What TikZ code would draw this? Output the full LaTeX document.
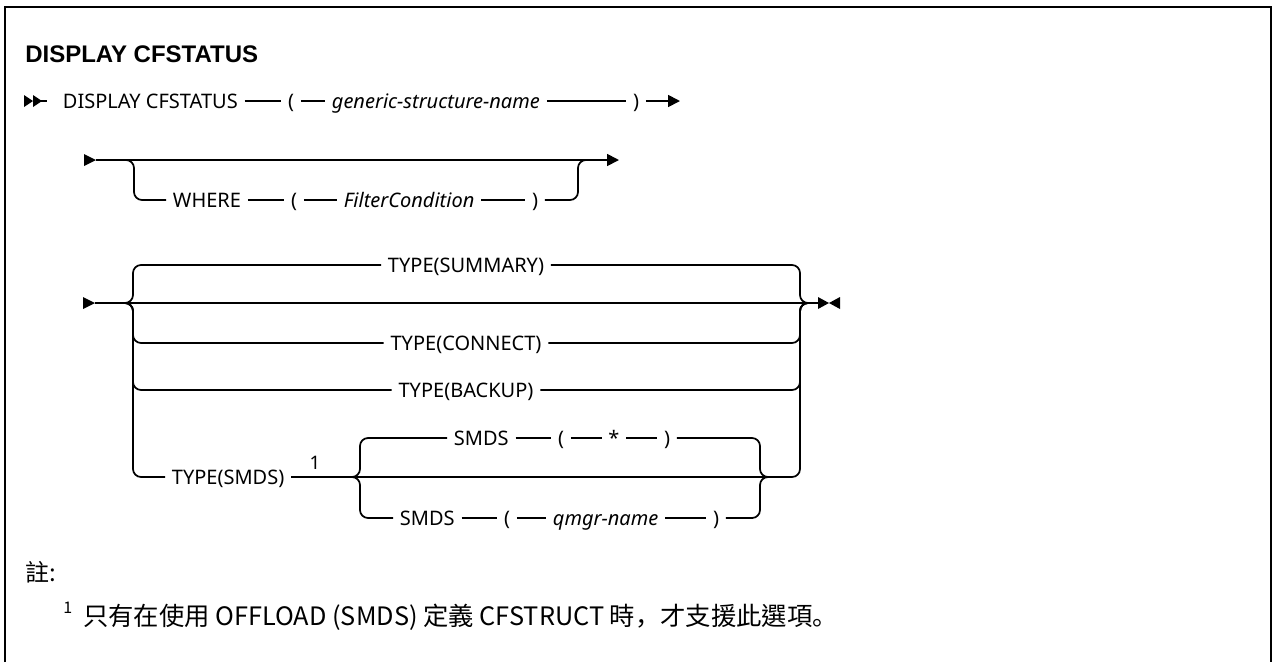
\documentclass[tikz,border=0pt]{standalone}
\usepackage{fontspec}
\setmainfont{Noto Sans}
\newfontfamily\cjk{Noto Sans CJK TC}
\newfontfamily\cjksc{Noto Sans CJK SC}
\newfontfamily\titlefont{Liberation Sans}
\usetikzlibrary{arrows.meta}
\begin{document}
\begin{tikzpicture}[x=0.75pt,y=-0.75pt,
  ln/.style={line width=1.3pt},
  br/.style={ln, rounded corners=6pt},
  txt/.style={inner xsep=5pt, inner ysep=0pt, font=\fontsize{15}{18}\selectfont},
  itx/.style={txt, font=\fontsize{15}{18}\selectfont\itshape},
  arr/.style={ln,-{Triangle[length=9pt,width=9pt]}},
]
\useasboundingbox (0,0) rectangle (1273,662);
\draw[line width=1.5pt] (5,662) -- (5,7) -- (1271,7) -- (1271,662);

% title
\node[anchor=base west, inner sep=0pt, font=\titlefont\bfseries\fontsize{18}{22}\selectfont] (title) at (25,62) {DISPLAY CFSTATUS};

% ---------- row 1
\coordinate (r1) at (0,101);
\coordinate (s1) at (33,101);
\fill (24,95) -- (33,101) -- (24,107) -- cycle;
\fill (33,95) -- (42,101) -- (33,107) -- cycle;
\node[txt, anchor=base west] (cmd) at (56,108) {DISPLAY CFSTATUS};
\node[txt, anchor=base] (lp1) at (291,108) {(};
\node[itx, anchor=base west] (gen) at (325,108) {generic-structure-name};
\node[txt, anchor=base] (rp1) at (636,108) {)};
\coordinate (e1) at (680,101);
\draw[ln, shorten >=7pt] (s1) -- (cmd.west |- r1);
\draw[ln] (cmd.east |- r1) -- (lp1.west |- r1);
\draw[ln] (lp1.east |- r1) -- (gen.west |- r1);
\draw[ln] (gen.east |- r1) -- (rp1.west |- r1);
\draw[arr] (rp1.east |- r1) -- (e1);

% ---------- row 2
\coordinate (r2) at (0,160);
\coordinate (r2w) at (0,200);
\fill (84,154) -- (96,160) -- (84,166) -- cycle;
\coordinate (s2) at (96,160);
\coordinate (e2) at (619,160);
\draw[arr] (s2) -- (e2);
\coordinate (L2a) at (122,160);
\coordinate (L2) at (134,160);
\coordinate (R2) at (578,160);
\coordinate (R2a) at (590,160);
\node[txt, anchor=base west] (wh) at (166,207) {WHERE};
\node[txt, anchor=base] (lp2) at (294,207) {(};
\node[itx, anchor=base west] (fc) at (337,207) {FilterCondition};
\node[txt, anchor=base] (rp2) at (535,207) {)};
\draw[br] (L2a) -- (L2) -- (L2 |- r2w) -- (wh.west |- r2w);
\draw[ln] (wh.east |- r2w) -- (lp2.west |- r2w);
\draw[ln] (lp2.east |- r2w) -- (fc.west |- r2w);
\draw[ln] (fc.east |- r2w) -- (rp2.west |- r2w);
\draw[br] (rp2.east |- r2w) -- (R2 |- r2w) -- (R2) -- (R2a);

% ---------- row 3
\coordinate (r3) at (0,303);
\coordinate (rSu) at (0,265);
\coordinate (rCo) at (0,343);
\coordinate (rBa) at (0,390);
\coordinate (rT) at (0,477);
\coordinate (rS1) at (0,438);
\coordinate (rS2) at (0,518);
\fill (83,297) -- (95,303) -- (83,309) -- cycle;
\coordinate (s3) at (95,303);
\coordinate (e3) at (818,303);
\draw[ln] (s3) -- (e3);
\fill (818,297) -- (829,303) -- (818,309) -- cycle;
\fill (840,297) -- (829,303) -- (840,309) -- cycle;
\coordinate (L3a) at (121,303);
\coordinate (L3) at (133,303);
\coordinate (R3) at (800,303);
\coordinate (R3a) at (812,303);

\node[txt, anchor=base] (su) at (466,272) {TYPE(SUMMARY)};
\node[txt, anchor=base] (co) at (466,350) {TYPE(CONNECT)};
\node[txt, anchor=base] (ba) at (466,397) {TYPE(BACKUP)};
\node[txt, anchor=base west] (ts) at (165,484) {TYPE(SMDS)};
\node[inner sep=0pt, anchor=base, font=\fontsize{14}{16}\selectfont] (n1) at (315,469) {1};

\draw[br] (L3a) -- (L3) -- (L3 |- rSu) -- (su.west |- rSu);
\draw[br] (L3a) -- (L3) -- (L3 |- rCo) -- (co.west |- rCo);
\draw[br] (L3a) -- (L3) -- (L3 |- rBa) -- (ba.west |- rBa);
\draw[br] (L3a) -- (L3) -- (L3 |- rT) -- (ts.west |- rT);
\draw[br] (su.east |- rSu) -- (R3 |- rSu) -- (R3) -- (R3a);
\draw[br] (co.east |- rCo) -- (R3 |- rCo) -- (R3) -- (R3a);
\draw[br] (ba.east |- rBa) -- (R3 |- rBa) -- (R3) -- (R3a);
\draw[br] (ts.east |- rT) -- (R3 |- rT) -- (R3) -- (R3a);

% sub choice
\coordinate (SLa) at (348,477);
\coordinate (SL) at (360,477);
\coordinate (SR) at (760,477);
\coordinate (SRa) at (772,477);
\node[txt, anchor=base west] (m1) at (447,445) {SMDS};
\node[txt, anchor=base] (lp3) at (561,445) {(};
\node[txt, anchor=base] (st) at (614,445) {*};
\node[txt, anchor=base] (rp3) at (667,445) {)};
\node[txt, anchor=base west] (m2) at (393,525) {SMDS};
\node[txt, anchor=base] (lp4) at (507,525) {(};
\node[itx, anchor=base west] (qn) at (546,525) {qmgr-name};
\node[txt, anchor=base] (rp4) at (716,525) {)};
\draw[br] (SLa) -- (SL) -- (SL |- rS1) -- (m1.west |- rS1);
\draw[br] (SLa) -- (SL) -- (SL |- rS2) -- (m2.west |- rS2);
\draw[ln] (m1.east |- rS1) -- (lp3.west |- rS1);
\draw[ln] (lp3.east |- rS1) -- (st.west |- rS1);
\draw[ln] (st.east |- rS1) -- (rp3.west |- rS1);
\draw[ln] (m2.east |- rS2) -- (lp4.west |- rS2);
\draw[ln] (lp4.east |- rS2) -- (qn.west |- rS2);
\draw[ln] (qn.east |- rS2) -- (rp4.west |- rS2);
\draw[br] (rp3.east |- rS1) -- (SR |- rS1) -- (SR) -- (SRa);
\draw[br] (rp4.east |- rS2) -- (SR |- rS2) -- (SR) -- (SRa);

% ---------- notes
\node[anchor=base west, inner sep=0pt, font=\cjk\fontsize{18}{20}\selectfont] (note) at (25,581) {註:};
\node[anchor=base west, inner sep=0pt, font=\cjk\fontsize{12}{14}\selectfont] (fm) at (63,613) {1};
\node[anchor=base west, inner sep=0pt, font=\cjk\fontsize{19}{22}\selectfont] (ft) at (83,625) {只有在使用 OFFLOAD (SMDS) 定義 CFSTRUCT 時{\cjksc ，}才支援此選項{\cjksc 。}};
\end{tikzpicture}
\end{document}
